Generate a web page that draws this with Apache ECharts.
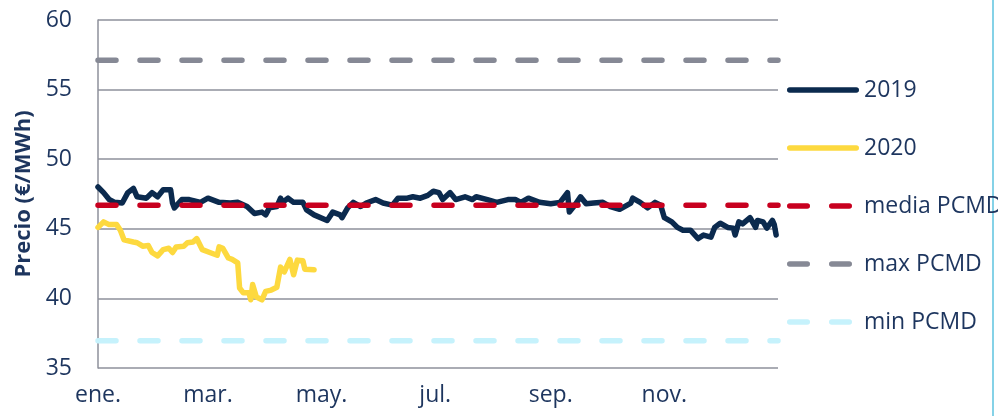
<!DOCTYPE html>
<html>
<head>
<meta charset="utf-8">
<script src="https://cdn.jsdelivr.net/npm/echarts@6/dist/echarts.min.js"></script>
<style>
html,body{margin:0;padding:0;background:#fff;}
#chart{width:998px;height:416px;}
</style>
</head>
<body>
<div id="chart"></div>
<script>
// Day of year (0 = 1 Jan) and price values
const days2019 = [0,3,6,9,13,16,19,21,26,29,32,35,39,40,41,45,49,55,59,65,71,75,80,84,88,90,92,96,98,99,102,105,110,112,116,123,126,130,131,134,137,141,144,149,153,158,161,166,169,173,177,180,183,185,189,192,197,201,203,209,214,220,224,227,231,237,243,248,252,253,256,259,262,266,271,275,280,286,287,291,295,299,302,304,308,311,314,318,322,325,329,331,334,338,341,342,344,346,350,353,354,357,359,362,363,364];
const vals2019 = [48.0,47.6,47.1,46.9,46.85,47.6,47.9,47.3,47.2,47.6,47.3,47.8,47.8,46.85,46.5,47.1,47.1,46.9,47.2,46.9,46.85,46.9,46.6,46.1,46.2,46.0,46.5,46.6,47.2,46.9,47.2,46.9,46.9,46.35,46.0,45.6,46.2,46.0,45.8,46.5,46.9,46.6,46.85,47.1,46.85,46.7,47.2,47.2,47.3,47.2,47.4,47.7,47.6,47.1,47.6,47.1,47.3,47.1,47.3,47.1,46.9,47.1,47.1,46.9,47.2,46.9,46.8,46.9,47.6,46.2,46.7,47.3,46.8,46.85,46.9,46.6,46.4,46.85,47.2,46.9,46.5,46.9,46.7,45.8,45.5,45.1,44.9,44.9,44.3,44.55,44.4,45.1,45.4,45.1,45.05,44.55,45.5,45.35,45.8,45.1,45.6,45.5,45.05,45.6,45.3,44.55];
const days2020 = [0,3,6,10,12,14,19,21,24,27,29,32,35,38,40,42,46,48,51,53,56,60,64,65,67,70,72,75,76,78,81,82,83,85,88,90,93,96,98,100,103,105,107,110,111,116];
const vals2020 = [45.1,45.5,45.3,45.3,44.9,44.2,44.05,44.0,43.75,43.8,43.3,43.05,43.5,43.6,43.3,43.7,43.75,44.0,44.05,44.3,43.5,43.3,43.1,43.7,43.6,42.9,42.8,42.55,40.75,40.4,40.4,39.9,41.0,40.1,39.9,40.5,40.6,40.8,42.25,41.9,42.8,41.7,42.75,42.7,42.1,42.05];
const mediaPCMD = 46.7;
const maxPCMD = 57.1;
const minPCMD = 36.95;
const monthTickDays = [0,59,120,181,243,304];
const monthTickLabels = ['ene.','mar.','may.','jul.','sep.','nov.'];
const yearDays = 365;

const navy = '#0b2a4e';
const textColor = '#1d355e';
const gridColor = '#8e919b';
const FONT = 'Open Sans';

const pair = (d, v) => d.map((x, i) => [x, v[i]]);
const flat = v => [[0, v], [yearDays, v]];
const dashPattern = [18, 24];
const dash = { type: dashPattern, cap: 'round' };

// legend glyphs (72 x 5.5 boxes)
const solidIcon = 'path://M2.75,0H69.25A2.75,2.75,0,0,1,69.25,5.5H2.75A2.75,2.75,0,0,1,2.75,0Z';
const dashIcon = 'path://M2.75,0H20.25A2.75,2.75,0,0,1,20.25,5.5H2.75A2.75,2.75,0,0,1,2.75,0Z' +
  'M44.75,0H62.25A2.75,2.75,0,0,1,62.25,5.5H44.75A2.75,2.75,0,0,1,44.75,0Z' +
  'M71.99,0L72,0L72,5.5L71.99,5.5Z';

const chart = echarts.init(document.getElementById('chart'), null, { renderer: 'canvas' });
chart.setOption({
  animation: false,
  backgroundColor: '#fff',
  textStyle: { fontFamily: FONT },
  grid: { left: 98, right: 220, top: 20, bottom: 48 },
  xAxis: {
    type: 'value', min: 0, max: yearDays,
    axisLine: { show: false }, axisTick: { show: false }, splitLine: { show: false },
    axisLabel: {
      customValues: monthTickDays,
      formatter: v => monthTickLabels[monthTickDays.indexOf(v)] || '',
      color: textColor, fontSize: 23, fontFamily: FONT, margin: 16
    }
  },
  yAxis: {
    type: 'value', min: 35, max: 60, interval: 5,
    name: 'Precio (€/MWh)', nameLocation: 'middle', nameGap: 63,
    nameTextStyle: { color: textColor, fontSize: 22, fontWeight: 'bold', fontFamily: FONT },
    axisLine: { show: true, lineStyle: { color: gridColor, width: 1.5 } },
    axisTick: { show: false },
    splitLine: { show: true, lineStyle: { color: gridColor, width: 1.5 } },
    axisLabel: { color: textColor, fontSize: 23, fontFamily: FONT, margin: 26 }
  },
  legend: {
    orient: 'vertical', left: 787, top: 77, padding: 0,
    itemWidth: 72, itemHeight: 5.5, itemGap: 32,
    symbolKeepAspect: false,
    textStyle: { color: textColor, fontSize: 23, fontFamily: FONT, lineHeight: 26 },
    data: [
      { name: '2019', icon: solidIcon },
      { name: '2020', icon: solidIcon },
      { name: 'media PCMD', icon: dashIcon },
      { name: 'max PCMD', icon: dashIcon },
      { name: 'min PCMD', icon: dashIcon }
    ]
  },
  series: [
    { name: '2019', type: 'line', data: pair(days2019, vals2019), showSymbol: false, symbol: 'none',
      lineStyle: { color: navy, width: 5.5, cap: 'round', join: 'round' }, itemStyle: { color: navy } },
    { name: '2020', type: 'line', data: pair(days2020, vals2020), showSymbol: false, symbol: 'none',
      lineStyle: { color: '#fdd93f', width: 5.5, cap: 'round', join: 'round' }, itemStyle: { color: '#fdd93f' } },
    { name: 'media PCMD', type: 'line', data: flat(mediaPCMD), showSymbol: false, symbol: 'none',
      lineStyle: Object.assign({ color: '#c8001f', width: 5.5 }, dash), itemStyle: { color: '#c8001f' } },
    { name: 'max PCMD', type: 'line', data: flat(maxPCMD), showSymbol: false, symbol: 'none',
      lineStyle: Object.assign({ color: '#868995', width: 5.5 }, dash), itemStyle: { color: '#868995' } },
    { name: 'min PCMD', type: 'line', data: flat(minPCMD), showSymbol: false, symbol: 'none',
      lineStyle: Object.assign({ color: '#c6f2fc', width: 5.5 }, dash), itemStyle: { color: '#c6f2fc' } }
  ],
  graphic: [
    { type: 'line', shape: { x1: 993, y1: 0, x2: 993, y2: 416 }, style: { stroke: '#5cc3df', lineWidth: 1.5 }, silent: true }
  ]
});
</script>
</body>
</html>
